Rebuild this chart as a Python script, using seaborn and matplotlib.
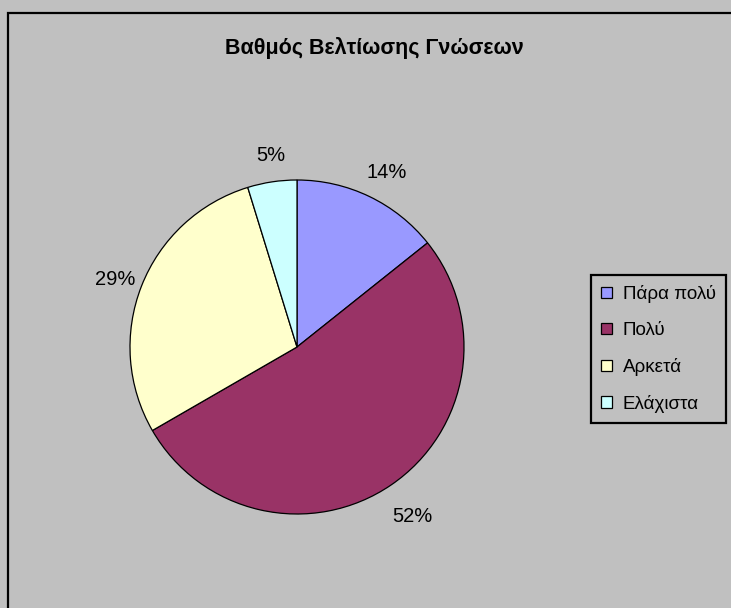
import matplotlib
matplotlib.use("Agg")
import matplotlib.pyplot as plt
import matplotlib.patches as mpatches
import seaborn as sns

# data: responses per answer (shares shown as rounded percentages)
labels = ["Πάρα πολύ", "Πολύ", "Αρκετά", "Ελάχιστα"]
counts = [3, 11, 6, 1]
colors = ["#9999FF", "#993366", "#FFFFCC", "#CCFFFF"]
title = "Βαθμός Βελτίωσης Γνώσεων"

sns.set_style("white")
plt.rcParams["font.family"] = ["Liberation Sans", "DejaVu Sans"]
plt.rcParams["text.color"] = "black"

bg = "#C0C0C0"
W, H = 731, 608
fig = plt.figure(figsize=(W / 100, H / 100), dpi=100, facecolor=bg)

# outer chart frame (left and top edges visible)
fig.patches.append(mpatches.Rectangle((8 / W, -0.1), 1.2, (H - 13) / H + 0.1,
                                      transform=fig.transFigure, fill=False,
                                      edgecolor="black", linewidth=1.6))

fig.text(374 / W, 1 - 48 / H, title, ha="center", va="center",
         fontsize=15.5, fontweight="bold", color="black")

cx, cy, r = 297, 347, 167
ax = fig.add_axes([(cx - r) / W, (H - cy - r) / H, 2 * r / W, 2 * r / H])
ax.set_facecolor(bg)
wedges, texts, autotexts = ax.pie(
    counts, colors=colors, startangle=90, counterclock=False,
    autopct="%.0f%%", pctdistance=1.19,
    wedgeprops=dict(edgecolor="black", linewidth=0.9),
    textprops=dict(fontsize=14.5, color="black"),
)
# labels sit a touch lower in the original
for t in autotexts:
    x, y = t.get_position()
    t.set_position((x + 0.02, y - 0.03))
ax.set_xlim(-1, 1)
ax.set_ylim(-1, 1)
ax.axis("off")

leg = fig.legend(wedges, labels, loc="upper left",
                 bbox_to_anchor=(591 / W, 1 - 275 / H),
                 fontsize=13.5, frameon=True, fancybox=False,
                 facecolor=bg, edgecolor="black", framealpha=1,
                 handlelength=0.55, handleheight=0.55, handletextpad=0.6,
                 labelspacing=1.0, borderpad=0.55, borderaxespad=0)
leg.get_frame().set_linewidth(1.6)
for t in leg.get_texts():
    t.set_color("black")

fig.savefig("out.png", dpi=100, facecolor=bg)
